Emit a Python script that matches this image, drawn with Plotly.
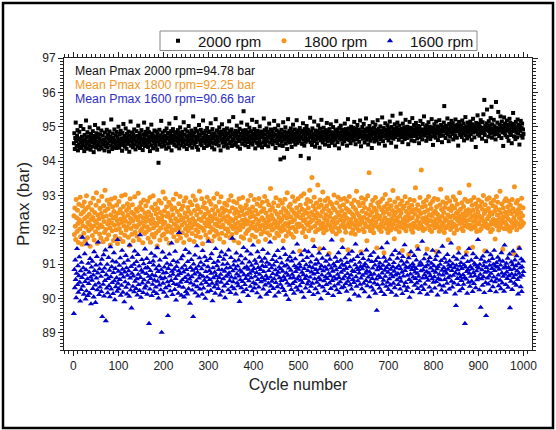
import plotly.graph_objects as go

# ---------------- data (read/estimated from the reference) ----------------
series_names = ["2000 rpm", "1800 rpm", "1600 rpm"]
mean_labels = ["Mean Pmax 2000 rpm=94.78 bar",
               "Mean Pmax 1800 rpm=92.25 bar",
               "Mean Pmax 1600 rpm=90.66 bar"]
x_tick_values = [0, 100, 200, 300, 400, 500, 600, 700, 800, 900, 1000]
y_tick_values = [89, 90, 91, 92, 93, 94, 95, 96, 97]

p2000 = [
94.52,94.81,94.35,94.67,95.12,94.58,94.44,94.73,94.90,94.31,94.62,94.49,94.85,94.40,94.66,95.02,94.55,94.38,94.71,94.60,
94.47,94.93,94.58,94.29,94.76,94.63,94.41,95.18,94.69,94.52,94.84,94.36,94.57,94.72,94.45,94.98,94.61,94.33,94.79,94.54,
94.68,94.42,94.87,94.59,94.26,94.73,94.50,95.05,94.64,94.39,94.81,94.56,94.47,94.70,94.95,94.53,94.34,94.66,94.78,94.43,
94.60,94.89,94.37,94.55,94.74,94.48,95.10,94.62,94.31,94.83,94.57,94.44,94.69,94.91,94.52,94.40,94.77,94.65,94.28,94.86,
94.58,94.71,94.46,95.21,94.63,94.35,94.80,94.54,94.67,94.41,94.92,94.60,94.49,94.75,94.38,94.85,94.56,94.70,94.45,95.00,
94.62,94.39,94.78,94.55,94.88,94.47,94.66,94.30,94.82,94.59,95.08,94.51,94.73,94.42,94.64,94.95,94.57,94.36,94.79,94.68,
94.50,94.86,94.61,94.27,94.74,94.58,95.15,94.45,94.69,94.83,94.53,94.40,94.77,94.63,94.92,94.48,94.71,94.34,94.60,94.87,
94.56,94.73,94.43,95.03,94.66,94.52,94.81,94.38,94.70,94.59,94.90,94.47,94.64,94.32,94.78,94.55,95.12,94.68,94.44,94.85,
94.61,94.49,94.76,94.57,94.94,94.41,94.67,94.84,94.53,94.29,94.72,94.60,95.06,94.46,94.80,94.65,94.37,94.74,94.58,94.89,
94.52,94.70,94.44,94.86,94.63,94.33,94.79,94.56,93.95,94.68,94.91,94.48,94.75,94.59,95.17,94.42,94.66,94.83,94.54,94.72,
94.62,94.45,94.88,94.57,94.74,94.36,94.95,94.65,94.51,94.82,94.69,94.40,95.09,94.60,94.77,94.53,94.87,94.31,94.71,94.64,
94.93,94.55,94.73,94.47,94.84,94.61,95.25,94.68,94.43,94.79,94.58,94.90,94.50,94.75,94.37,94.66,94.98,94.59,94.81,94.46,
94.70,94.85,94.54,94.63,95.13,94.42,94.77,94.60,94.92,94.49,94.72,94.35,94.86,94.67,94.56,95.02,94.74,94.45,94.80,94.62,
94.52,94.89,94.66,94.39,94.76,95.30,94.58,94.83,94.48,94.71,94.94,94.55,94.64,94.41,94.87,94.69,94.33,94.78,95.05,94.60,
94.74,94.50,94.91,94.63,94.46,94.82,94.57,95.18,94.68,94.38,94.79,94.61,94.88,94.53,94.73,94.44,94.96,94.65,94.58,94.84,
94.70,94.47,94.86,94.62,95.10,94.55,94.77,94.40,94.93,94.67,94.52,94.81,94.34,94.75,94.60,95.22,94.72,94.49,94.89,94.64,
94.57,94.83,94.45,94.98,94.69,94.76,94.31,94.86,94.61,95.07,94.54,94.79,94.66,94.43,94.91,94.70,94.58,94.84,94.48,94.74,
94.95,94.62,94.39,94.80,94.68,95.16,94.51,94.87,94.73,94.56,94.92,94.44,94.77,94.64,95.28,94.59,94.82,94.47,94.71,94.88,
94.53,94.76,95.03,94.65,94.42,94.85,94.70,94.58,94.94,94.36,94.79,94.62,95.12,94.74,94.50,94.89,94.67,95.45,94.81,94.57,
94.72,94.46,94.90,94.63,94.78,95.06,94.55,94.84,94.41,94.69,94.97,94.60,94.75,94.52,94.87,94.66,95.20,94.48,94.80,94.71,
94.58,94.93,94.64,94.37,94.82,94.74,95.14,94.53,94.88,94.67,94.45,94.79,94.61,95.01,94.72,94.50,94.86,94.69,94.40,94.83,
94.76,94.55,95.24,94.65,94.90,94.47,94.78,94.62,94.95,94.57,94.71,94.85,94.43,94.68,95.09,94.80,94.54,94.74,94.92,94.60,
94.87,94.66,94.49,94.81,94.73,95.17,94.58,94.94,94.38,94.77,94.63,94.89,94.52,94.70,95.04,94.61,94.84,94.46,94.75,94.05,
94.67,94.91,94.56,94.79,94.44,95.13,94.72,94.10,94.86,94.62,94.98,94.51,94.76,94.68,94.35,94.83,95.22,94.59,94.70,94.88,
94.54,94.77,94.95,94.63,94.41,94.85,94.71,95.06,94.57,94.80,94.66,94.92,94.48,94.74,94.60,95.19,94.82,94.53,94.69,94.89,
94.75,94.58,94.96,94.67,94.15,94.84,94.72,94.50,94.88,95.10,94.62,94.79,94.45,94.93,94.70,94.56,94.83,95.02,94.64,94.77,
94.91,94.60,94.08,94.81,94.69,95.26,94.55,94.86,94.73,94.47,94.95,94.66,94.80,94.58,95.15,94.74,94.42,94.89,94.63,94.78,
94.52,94.87,94.71,95.04,94.65,94.82,94.39,94.94,94.76,94.60,95.20,94.69,94.85,94.54,94.75,94.97,94.62,94.83,94.48,94.72,
94.90,94.66,95.11,94.79,94.57,94.86,94.70,94.44,94.93,94.74,94.61,95.07,94.84,94.53,94.77,94.68,94.99,94.59,94.81,94.73,
94.46,94.88,94.64,95.16,94.76,94.92,94.55,94.83,94.71,94.37,94.96,94.67,94.80,95.03,94.62,94.87,94.74,94.50,94.91,94.69,
94.82,94.58,95.09,94.75,94.93,94.64,94.86,94.45,94.79,95.22,94.70,94.95,94.61,94.84,94.77,94.52,95.00,94.73,94.89,94.66,
94.97,94.60,94.81,95.14,94.72,94.88,94.49,94.94,94.76,94.63,95.05,94.85,94.69,94.92,94.56,94.80,95.18,94.74,94.43,94.87,
94.71,94.99,94.65,94.83,95.08,94.77,94.54,94.91,94.68,95.24,94.86,94.62,94.95,94.75,94.48,94.89,94.70,95.02,94.81,94.59,
94.93,94.73,94.38,94.87,95.13,94.66,94.84,94.97,94.57,94.79,95.06,94.72,94.90,94.61,94.82,95.19,94.69,94.94,94.51,94.86,
94.76,95.01,94.64,94.88,94.74,95.27,94.83,94.58,94.96,94.71,94.89,94.45,95.10,94.78,94.92,94.67,94.85,95.04,94.73,94.60,
94.95,94.80,95.15,94.68,94.87,94.53,94.99,94.76,95.32,94.84,94.65,94.93,94.79,95.07,94.70,94.88,94.42,94.97,94.82,95.12,
94.74,94.91,94.62,95.03,94.86,94.77,95.38,94.69,94.94,94.81,94.55,95.09,94.88,94.72,94.98,94.64,94.85,95.20,94.78,94.92,
94.67,95.00,94.83,94.49,94.95,94.76,95.14,94.89,94.71,94.97,94.60,94.87,95.25,94.80,94.93,94.73,95.05,94.58,94.90,94.84,
95.11,94.75,94.96,94.66,94.88,95.02,94.79,94.52,94.99,94.85,95.17,94.70,94.92,94.82,94.63,95.08,94.87,94.77,95.30,94.91,
94.74,94.98,94.86,94.59,95.04,94.81,94.93,94.69,95.13,94.89,94.78,95.00,94.64,94.95,94.84,95.22,94.72,94.90,94.47,94.97,
94.83,95.07,94.76,94.94,94.68,95.15,94.88,94.80,95.01,94.61,94.96,94.85,95.19,94.73,94.92,94.79,95.05,94.87,94.55,94.99,
94.90,94.74,95.12,95.60,94.86,94.97,94.67,95.03,94.82,94.93,95.24,94.78,94.95,94.58,95.08,94.88,94.71,95.00,94.84,95.17,
94.96,94.79,95.10,94.63,94.91,95.02,94.85,94.73,95.21,94.89,94.98,94.68,95.06,94.87,94.45,94.94,95.14,94.80,94.99,94.76,
95.04,94.88,94.70,95.18,94.93,94.81,95.09,94.60,94.97,94.86,95.28,94.75,95.01,94.91,94.66,95.12,94.84,94.95,94.72,95.05,
94.90,95.15,94.78,94.99,94.62,95.07,94.87,95.23,94.83,94.96,94.69,95.03,94.92,94.41,95.11,94.86,94.98,95.33,94.79,94.94,
95.08,94.74,95.00,94.88,95.19,94.82,94.97,94.65,95.13,94.91,95.36,94.85,95.78,94.76,95.02,94.93,94.58,95.10,95.50,94.89,
94.99,94.71,95.16,94.87,95.04,94.80,95.25,94.95,95.58,94.68,95.07,94.92,94.84,95.20,94.77,95.01,94.90,94.63,95.72,94.96,
94.86,95.12,94.79,95.43,94.94,94.73,95.06,94.89,95.30,94.98,94.67,95.15,94.84,95.02,94.44,94.93,95.27,94.81,95.09,94.75,
95.00,94.88,95.18,94.70,94.97,95.05,94.59,94.91,95.23,94.83,95.11,94.76,94.99,94.52,95.08,94.87,95.40,94.94,94.72,95.03,
94.90,94.64,95.14,94.85,94.98,94.69,95.21,94.81,95.06,94.93,94.48,95.00,94.88,95.17,94.74,94.96,95.09,94.68,94.92,94.79,
]

p1800 = [
92.41,91.86,92.63,92.10,91.72,92.88,92.35,91.95,92.57,92.18,91.63,92.74,92.29,92.02,92.95,91.80,92.46,92.23,91.58,92.69,
92.12,92.52,91.90,92.81,92.33,91.67,92.60,92.07,92.99,92.38,91.77,92.21,92.66,91.98,92.45,92.15,91.52,92.78,92.30,92.04,
92.58,91.83,92.36,92.92,92.11,91.70,92.50,92.26,91.94,92.71,93.08,92.19,91.61,92.43,92.05,92.84,92.32,91.88,92.62,92.14,
91.76,92.48,92.97,92.09,92.37,91.65,92.70,92.24,91.92,93.15,92.55,92.01,92.40,91.73,92.86,92.17,92.61,91.85,92.28,92.75,
92.06,91.56,92.44,92.89,92.20,91.97,92.67,92.34,91.69,92.53,92.13,92.93,91.81,92.39,92.00,92.72,92.27,91.60,92.49,92.16,
92.82,92.03,91.74,92.59,92.31,91.91,92.98,92.22,92.47,91.66,92.68,92.11,92.36,91.84,93.02,92.25,91.99,92.56,92.08,92.76,
92.42,91.78,92.64,92.19,91.55,92.90,92.33,92.04,92.51,91.87,92.73,92.26,91.68,92.45,92.12,92.96,91.93,92.38,92.60,92.07,
91.82,92.54,92.29,93.06,92.15,91.71,92.66,92.40,91.96,92.79,92.21,92.02,92.58,91.62,92.35,92.87,92.10,91.89,92.48,92.24,
92.70,91.94,92.37,92.09,92.83,91.75,92.52,92.27,92.01,92.94,91.64,92.43,92.18,92.65,91.86,92.31,92.99,92.06,91.79,92.57,
92.20,92.75,91.90,92.46,92.13,91.53,92.62,92.34,91.97,92.85,92.23,91.70,92.50,92.05,92.78,92.30,91.83,92.41,93.10,92.16,
91.88,92.55,92.22,92.91,92.03,91.73,92.67,92.39,91.95,92.48,92.12,92.80,91.61,92.36,92.08,92.71,92.26,91.92,92.59,92.00,
92.44,92.89,91.80,92.17,92.63,91.99,92.32,93.04,92.11,91.68,92.53,92.25,91.87,92.76,92.04,92.42,92.97,91.76,92.29,92.60,
92.14,91.91,92.69,92.35,91.63,92.84,92.21,92.49,92.02,92.93,91.84,92.38,92.10,92.65,91.97,92.54,92.28,91.71,92.81,92.19,
92.47,92.06,92.73,91.89,92.33,92.98,92.15,91.66,92.56,92.24,92.87,92.00,91.82,92.44,92.70,92.13,91.94,92.61,92.31,93.12,
92.09,91.78,92.51,92.27,92.90,92.05,91.59,92.66,92.37,91.98,92.79,92.20,92.45,91.85,92.62,92.11,92.95,92.30,91.73,92.52,
92.18,92.83,91.93,92.40,92.07,92.74,92.26,91.67,92.58,92.35,92.01,92.92,91.81,92.46,92.16,92.68,91.96,92.32,93.05,92.12,
91.87,92.55,92.23,92.81,91.74,92.43,92.08,92.96,92.29,91.90,92.63,92.14,92.50,91.64,92.36,92.77,92.03,92.57,91.83,92.25,
92.71,92.02,92.39,91.95,92.86,92.19,92.53,91.77,92.32,92.99,92.10,91.86,92.64,92.27,92.04,92.82,91.69,92.47,92.15,92.60,
92.34,91.92,92.78,92.06,92.52,92.21,91.62,92.90,92.41,92.00,92.67,92.13,91.80,92.55,92.28,92.94,92.09,91.75,92.44,92.18,
92.63,92.30,91.89,92.72,92.17,92.48,91.97,92.85,92.24,92.01,92.59,91.70,92.37,93.00,92.12,92.50,91.84,92.66,92.22,92.05,
92.40,92.88,92.07,91.79,92.56,92.31,91.98,92.75,92.16,92.46,91.66,92.91,92.26,92.03,92.69,92.11,91.88,92.53,92.35,92.80,
92.14,91.94,92.61,92.28,92.97,92.06,91.72,92.49,92.20,92.84,91.91,92.38,92.09,92.73,92.27,91.85,92.57,93.20,92.13,92.42,
91.99,92.65,92.33,92.02,92.79,92.19,91.76,92.54,92.25,92.93,92.08,91.90,92.45,92.15,92.70,91.83,92.36,92.04,92.86,92.24,
92.51,91.96,92.30,92.77,92.10,91.68,92.62,92.41,92.00,92.89,92.18,92.55,91.82,92.34,93.08,92.12,92.47,91.93,92.68,92.21,
92.05,92.74,92.37,91.87,92.58,92.23,92.96,92.07,91.78,92.50,92.29,92.83,92.01,92.44,91.95,92.64,92.16,92.39,92.90,92.09,
92.52,92.17,91.38,92.71,92.35,92.98,92.11,92.60,91.92,92.43,92.26,93.05,92.03,92.55,92.30,91.80,92.76,92.19,92.48,92.88,
92.14,92.63,91.97,92.37,93.15,92.22,92.82,92.06,92.50,93.52,92.28,91.70,92.69,92.42,92.95,92.10,92.59,91.94,92.34,92.78,
92.20,92.47,93.30,92.01,92.66,92.25,91.45,92.87,92.40,92.13,92.72,92.04,92.53,93.10,92.19,91.91,92.61,92.33,92.85,92.08,
92.44,91.99,92.70,92.27,92.92,92.15,92.56,91.31,92.38,92.81,92.12,92.49,92.02,92.75,92.24,91.95,92.64,92.31,93.01,92.18,
92.58,92.07,92.36,91.88,92.79,92.21,92.50,92.95,92.03,92.43,91.96,92.68,92.29,92.88,92.11,92.55,91.70,92.40,92.17,92.73,
92.26,92.91,92.05,92.46,91.93,92.62,92.34,92.83,92.14,91.42,92.57,92.22,92.97,92.09,92.52,92.30,91.90,92.76,92.19,92.45,
92.00,92.66,92.38,92.86,92.13,91.87,92.59,92.27,93.12,92.06,92.48,92.20,92.80,91.98,92.41,92.70,92.15,92.33,91.36,92.93,
92.24,92.54,92.02,92.78,92.36,91.94,92.65,92.18,92.89,92.10,92.47,91.68,92.31,92.99,92.08,92.60,93.66,92.25,92.42,91.97,
92.72,92.16,92.51,92.04,92.85,92.29,91.91,92.63,92.37,92.12,92.94,92.21,92.55,91.47,92.44,92.79,92.07,92.32,92.68,92.01,
92.39,92.82,92.15,91.95,92.58,92.26,92.90,92.09,92.48,91.33,92.67,92.35,93.03,92.19,92.53,92.03,92.76,92.28,91.92,92.61,
92.13,92.45,92.87,92.22,91.99,92.70,92.32,92.06,92.56,93.14,92.17,92.42,91.74,92.81,92.27,92.50,92.02,92.66,92.34,92.11,
92.92,92.23,92.57,91.94,92.39,92.74,92.08,92.49,92.20,92.84,91.40,92.62,92.30,92.05,92.69,92.16,92.96,92.37,91.97,92.53,
92.25,92.78,92.10,92.43,91.28,92.64,92.31,92.88,92.14,92.52,92.01,92.71,92.35,91.93,92.58,92.19,92.85,92.07,92.46,93.22,
92.12,92.60,92.27,91.51,92.73,92.38,92.04,92.55,92.21,92.94,92.15,92.47,93.74,92.09,92.66,92.33,91.98,92.80,92.24,92.51,
92.03,92.69,92.36,92.86,92.18,91.44,92.57,92.29,92.97,92.11,92.44,92.00,92.75,92.26,92.62,91.95,92.40,92.83,92.13,92.49,
92.22,92.91,92.06,92.54,92.30,91.37,92.67,92.17,92.45,92.88,92.09,92.35,91.96,92.72,92.25,93.18,92.02,92.59,92.39,92.14,
92.81,92.20,92.50,91.92,92.65,92.32,92.05,92.77,92.28,92.93,92.10,92.43,91.71,92.61,92.19,92.84,92.37,92.01,92.56,92.23,
92.70,92.08,92.41,92.96,92.16,91.90,92.63,92.34,92.87,92.12,92.48,92.00,92.74,92.27,92.53,91.46,92.39,93.08,92.18,92.60,
92.31,92.04,92.79,92.21,92.46,91.97,92.68,92.35,92.11,92.89,92.26,92.55,91.34,92.42,92.15,92.82,92.07,92.58,93.30,92.29,
92.49,92.13,92.85,92.02,92.38,92.71,91.49,92.57,92.24,92.94,92.10,92.44,92.06,92.76,92.33,91.95,92.64,92.20,92.52,92.87,
92.17,92.40,91.98,92.69,92.28,92.03,92.81,92.36,92.60,92.12,93.00,92.25,92.47,91.39,92.73,92.19,92.56,92.08,92.89,92.32,
92.05,92.62,92.39,92.93,92.14,92.50,91.94,92.78,92.23,92.45,92.01,92.70,92.30,92.86,92.16,92.54,91.73,92.66,92.27,92.97,
92.11,92.43,92.80,92.21,91.99,92.58,92.34,93.12,92.07,92.48,92.18,92.75,92.29,91.43,92.63,92.37,92.04,92.84,92.22,92.51,
92.90,92.15,92.42,92.02,92.67,92.31,92.83,92.09,92.55,91.96,92.72,92.26,92.47,92.06,92.88,92.19,92.61,91.30,92.36,93.25,
92.12,92.53,92.24,92.78,92.00,92.45,92.85,92.17,92.59,91.48,92.35,92.70,92.08,92.49,92.27,92.92,92.13,92.41,92.64,92.20,
]

p1600 = [
89.56,90.84,90.31,91.12,90.55,90.02,90.73,91.45,90.40,90.95,90.18,90.66,91.21,90.47,89.92,90.80,90.26,91.05,90.61,91.78,
90.36,90.89,90.12,90.70,91.30,90.49,89.98,90.83,90.22,91.58,90.57,90.08,91.02,90.43,90.76,90.15,91.16,90.62,89.84,90.91,
90.53,91.08,90.29,90.68,90.04,91.36,90.81,90.39,89.88,90.97,90.59,91.22,90.25,90.74,91.64,90.45,90.11,90.86,90.33,91.00,
90.64,90.20,91.14,89.47,90.78,90.41,91.27,90.07,90.88,90.52,91.41,89.35,90.69,90.30,90.99,90.16,90.58,91.19,90.37,90.82,
90.05,91.50,90.63,90.27,90.92,90.46,91.09,90.14,90.75,91.33,90.51,89.96,90.87,90.34,91.06,90.60,90.21,91.71,90.44,90.79,
90.28,90.96,90.55,91.18,90.09,90.71,90.38,91.40,90.85,90.18,90.62,91.03,89.90,90.77,90.48,91.25,90.32,90.89,90.13,90.67,
91.11,90.42,90.80,90.06,91.55,90.59,90.24,90.93,89.72,90.73,91.20,90.35,90.65,90.99,90.19,91.38,90.50,90.84,90.29,91.07,
90.57,90.10,91.28,90.70,90.40,90.94,90.23,91.85,90.61,90.03,90.82,91.13,90.45,90.76,90.17,91.01,90.54,90.30,91.44,90.88,
90.36,90.72,91.16,90.12,90.90,90.47,90.64,89.27,91.04,90.27,90.81,90.58,91.31,90.08,90.69,90.41,91.09,90.97,90.20,90.53,
91.23,90.66,90.33,90.86,90.14,91.47,90.50,90.78,90.01,90.95,90.39,91.12,90.62,90.25,90.83,89.01,90.57,91.35,90.44,90.74,
90.18,90.91,90.60,91.19,90.31,90.75,90.06,91.02,90.48,89.50,90.87,90.37,91.29,90.65,90.22,90.98,90.52,91.61,90.79,90.11,
90.70,91.10,90.43,90.85,90.26,91.37,90.58,89.95,90.93,90.40,91.06,90.67,90.15,90.80,91.92,90.35,90.72,90.47,91.15,90.09,
90.88,90.54,91.24,90.32,90.77,90.04,90.96,90.61,91.42,90.20,90.84,90.49,90.13,91.07,90.68,90.28,91.33,90.56,89.86,90.90,
90.45,91.13,90.63,90.24,90.82,89.47,91.00,90.39,90.71,91.26,90.16,90.87,90.51,91.53,90.34,90.76,90.07,90.94,90.59,91.18,
90.27,90.69,91.05,90.42,90.86,90.12,91.39,90.64,90.30,90.97,90.53,91.21,90.00,90.78,90.46,91.10,90.62,90.19,90.92,91.66,
90.38,90.81,90.55,91.16,90.23,90.73,91.30,90.44,89.93,90.89,90.60,91.04,90.33,90.76,90.15,91.45,90.66,90.41,90.95,90.50,
91.08,90.29,90.84,90.61,91.22,90.10,90.70,90.47,91.35,90.83,90.21,90.99,90.57,91.14,90.36,90.79,90.02,91.27,90.64,90.88,
90.43,91.01,90.68,90.25,91.41,90.74,90.52,90.90,90.17,91.19,90.62,90.34,91.75,90.80,90.48,90.97,90.28,91.09,90.59,90.86,
90.13,91.32,90.71,90.45,90.94,90.37,91.12,90.65,89.91,90.82,90.54,91.24,90.31,90.77,91.03,90.49,90.19,91.48,90.69,90.88,
90.40,91.15,90.58,90.26,90.92,91.38,90.67,90.08,90.85,90.51,91.06,90.73,90.35,91.29,90.60,90.96,90.22,90.79,91.55,90.46,
90.87,90.30,91.11,90.64,90.42,91.02,90.75,90.16,91.36,90.55,90.90,90.33,91.20,90.70,90.04,90.84,90.48,91.08,90.61,90.95,
91.42,90.27,90.78,90.53,91.17,90.39,90.93,90.66,90.12,91.05,90.58,91.31,90.44,90.81,90.20,90.99,91.64,90.62,90.36,90.89,
90.50,91.13,90.72,90.29,90.97,90.57,91.25,90.07,90.83,90.46,91.07,90.68,90.34,91.39,90.76,90.18,90.91,90.60,91.18,90.41,
90.86,90.52,91.03,90.31,90.79,91.46,90.63,90.23,90.94,90.55,91.28,90.10,90.74,90.97,90.45,91.12,90.67,89.97,90.88,90.38,
91.21,90.59,90.82,90.26,91.09,90.70,90.43,91.34,90.61,90.15,90.95,90.49,91.15,90.78,90.32,90.90,91.58,90.56,90.24,90.85,
90.64,91.01,90.37,90.92,90.53,91.27,90.19,90.76,90.46,91.10,90.69,90.03,90.87,91.40,90.58,90.30,90.98,90.65,91.19,90.42,
90.81,91.36,90.50,90.20,90.93,90.62,91.06,90.35,90.77,91.24,90.44,90.89,90.11,90.71,91.51,90.57,90.99,90.28,90.84,91.13,
90.47,90.75,90.16,91.03,90.60,91.32,90.38,90.86,90.54,89.99,90.95,90.68,91.17,90.33,90.80,91.45,90.51,90.22,90.91,90.63,
91.08,90.40,90.85,90.58,91.26,90.14,90.73,90.97,90.45,91.14,90.66,90.29,90.88,91.70,90.52,90.79,90.08,91.00,90.62,90.36,
90.94,91.20,90.56,90.83,90.25,91.07,90.70,90.42,91.33,90.61,90.17,90.90,90.48,91.11,90.76,90.31,90.99,91.48,90.57,90.82,
90.34,90.96,90.64,91.18,90.43,90.87,90.21,91.04,90.72,90.50,91.29,90.60,89.96,90.92,90.39,91.09,90.68,90.27,91.37,90.81,
90.55,91.13,90.46,90.78,90.12,90.98,91.58,90.63,90.35,90.89,91.22,90.51,90.84,90.07,90.74,91.05,90.41,90.93,90.59,91.30,
90.28,90.86,90.67,91.16,90.44,90.95,90.19,91.01,90.73,90.52,91.41,90.80,90.37,90.91,90.62,91.12,90.05,90.77,90.48,91.25,
90.69,90.33,91.07,90.58,90.88,90.24,91.34,90.71,90.45,90.97,90.15,91.10,90.56,89.65,90.83,90.40,91.19,90.66,90.93,90.30,
91.03,90.61,90.87,90.20,91.47,90.74,90.42,90.96,90.53,91.20,90.11,90.82,90.64,91.08,90.35,90.90,91.62,90.47,90.76,90.26,
90.98,90.57,91.14,90.39,90.85,90.70,90.18,91.27,90.63,90.92,90.44,91.04,90.79,90.31,91.39,90.68,90.09,90.88,90.54,91.17,
90.72,90.40,90.95,91.31,90.60,90.27,90.86,90.50,91.09,90.76,90.14,91.22,90.65,90.99,90.36,91.56,90.81,90.46,90.91,90.23,
91.06,90.67,90.32,90.89,91.18,90.55,90.03,90.94,90.71,91.36,90.48,90.84,90.19,91.01,90.62,90.93,91.25,90.38,90.77,90.58,
90.87,91.12,90.45,90.73,90.29,91.43,90.64,90.96,90.51,90.16,91.05,90.80,90.35,90.98,91.66,90.59,90.83,90.26,91.15,90.69,
90.42,90.92,91.29,90.61,90.78,90.12,90.97,90.53,91.08,90.74,90.33,91.19,90.66,90.88,90.21,91.02,90.57,91.40,90.80,90.47,
90.95,90.63,90.30,91.13,90.76,90.49,91.24,90.86,90.10,90.93,90.58,91.35,90.70,90.39,90.99,90.54,91.10,90.24,90.82,91.52,
90.68,90.36,90.90,91.17,90.55,90.79,90.18,91.05,90.73,90.44,91.28,90.85,90.60,90.97,90.27,91.09,90.65,90.92,91.61,90.50,
90.81,90.33,91.00,90.67,91.21,90.45,90.89,90.13,90.74,89.79,90.96,91.14,90.58,90.83,90.40,91.32,90.71,90.22,90.94,90.62,
91.04,90.52,90.87,90.29,91.18,90.69,90.41,90.98,90.60,89.27,90.91,91.26,90.56,90.78,90.15,91.07,90.84,90.47,91.45,90.73,
90.35,90.93,90.64,91.11,90.50,90.86,90.20,91.30,90.75,90.43,91.02,90.66,90.97,90.31,91.19,90.80,90.54,90.92,91.71,90.61,
90.88,90.25,90.99,90.70,89.74,91.14,90.57,90.83,90.38,91.23,90.63,90.95,90.17,91.06,90.76,90.46,89.50,90.90,91.36,90.59,
90.79,90.42,91.09,90.65,90.96,90.23,91.27,90.73,90.51,90.87,91.16,90.34,90.99,90.62,91.40,90.81,90.48,90.94,90.19,91.04,
90.56,90.91,91.20,90.68,90.37,90.85,91.11,90.53,90.97,90.28,91.33,90.74,90.45,91.08,90.64,90.88,90.21,91.55,90.70,90.93,
90.40,91.02,90.77,90.58,91.17,90.32,90.90,90.66,91.29,89.73,90.84,90.50,91.06,90.71,90.26,90.98,91.38,90.61,90.86,90.44,
91.12,90.69,90.95,90.38,91.24,90.80,90.55,90.13,91.01,90.73,91.46,90.62,90.89,90.34,91.15,90.20,90.92,90.67,91.09,90.78,
]

# ---------------- styling ----------------
colors = ["#000000", "#F7941D", "#0000CC"]
text_colors = ["#111111", "#F39A2B", "#2E2EC4"]
symbols = ["square", "circle", "triangle-up"]
sizes = [4, 5, 5.5]
FONT = "Liberation Sans, Arial, Helvetica, sans-serif"

# plot area in pixels (figure coordinates): x 64..532, y 58..350
PL, PR, PT, PB = 64, 532, 58, 350
def px_x(p):
    return (p - PL) / (PR - PL)
def px_y(p):
    return (PB - p) / (PB - PT)

fig = go.Figure()
for name, vals, col, sym, sz in zip(series_names, [p2000, p1800, p1600], colors, symbols, sizes):
    fig.add_trace(go.Scatter(
        x=list(range(1, len(vals) + 1)), y=vals, mode="markers", name=name,
        marker=dict(color=col, symbol=sym, size=sz, line=dict(width=0)),
    ))

axis_common = dict(
    showline=True, linecolor="#222", linewidth=1, mirror="ticks",
    ticks="outside", tickcolor="#222", tickwidth=1, ticklen=5,
    showgrid=False, zeroline=False,
    tickfont=dict(family=FONT, size=12, color="#222"),
)

fig.update_layout(
    width=556, height=430,
    margin=dict(l=PL, r=556 - PR, t=PT, b=430 - PB),
    paper_bgcolor="white", plot_bgcolor="white",
    font=dict(family=FONT, size=12, color="#222"),
    xaxis=dict(range=[-21, 1019], tickmode="array", tickvals=x_tick_values,
               minor=dict(ticks="outside", dtick=10, tick0=0, ticklen=3, tickcolor="#222", showgrid=False),
               title=dict(text="Cycle number", font=dict(family=FONT, size=16, color="#222"), standoff=6),
               **axis_common),
    yaxis=dict(range=[88.5, 97], tickmode="array", tickvals=y_tick_values,
               minor=dict(ticks="outside", dtick=0.1, tick0=0, ticklen=3, tickcolor="#222", showgrid=False),
               title=dict(text="Pmax (bar)", font=dict(family=FONT, size=17, color="#222"), standoff=8),
               **axis_common),
    legend=dict(orientation="h", x=px_x(158), xanchor="left", y=px_y(41), yanchor="middle",
                borderwidth=0, bgcolor="rgba(0,0,0,0)",
                font=dict(family=FONT, size=15, color="#111"),
                entrywidth=61, entrywidthmode="pixels"),
)

# legend box
fig.add_shape(type="rect", xref="paper", yref="paper",
              x0=px_x(160), x1=px_x(477), y0=px_y(50.5), y1=px_y(31),
              line=dict(color="#888", width=1), fillcolor="white", layer="below")

ann_px_y = [70.5, 85, 99.5]
for txt, col, yy in zip(mean_labels, text_colors, ann_px_y):
    fig.add_annotation(x=px_x(72.5), y=px_y(yy), xref="paper", yref="paper", text=txt, showarrow=False,
                       xanchor="left", yanchor="middle", font=dict(family=FONT, size=12.3, color=col))

# outer frame around the whole picture
fig.add_shape(type="rect", xref="paper", yref="paper",
              x0=px_x(3), x1=px_x(553), y0=px_y(428), y1=px_y(3),
              line=dict(color="black", width=2.5), fillcolor="rgba(0,0,0,0)", layer="above")

fig.write_html("out.html", config={"displayModeBar": False},
               post_script="document.body.style.margin='0px';document.body.style.padding='0px';")
